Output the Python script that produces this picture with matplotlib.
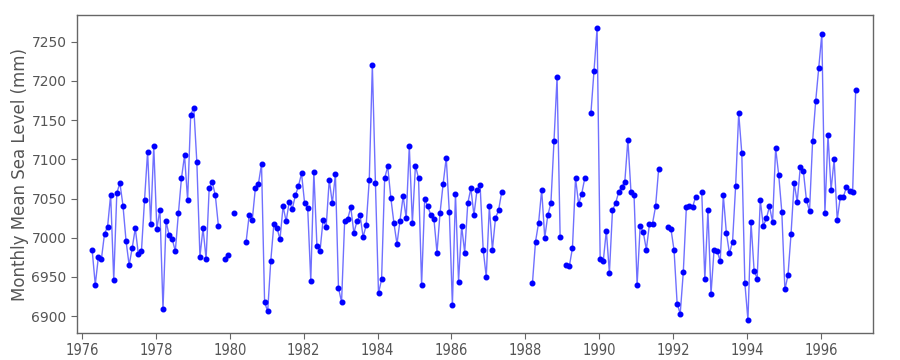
import numpy as np
import matplotlib
matplotlib.use("Agg")
import matplotlib.pyplot as plt

nan = np.nan

# monthly mean sea level (mm), Jan..Dec of each year, nan = missing month
msl_1976 = [nan, nan, nan, 6984, 6940, 6975, 6973, 7005, 7014, 7055, 6946, 7057]
msl_1977 = [7070, 7041, 6996, 6965, 6987, 7012, 6979, 6983, 7048, 7110, 7018, 7117]
msl_1978 = [7011, 7036, 6909, 7021, 7003, 6998, 6983, 7031, 7076, 7105, 7048, 7157]
msl_1979 = [7166, 7096, 6976, 7012, 6973, 7063, 7071, 7054, 7015, nan, 6973, 6978]
msl_1980 = [nan, 7031, nan, nan, nan, 6995, 7029, 7023, 7063, 7069, 7094, 6918]
msl_1981 = [6906, 6970, 7017, 7013, 6998, 7040, 7021, 7046, 7037, 7054, 7066, 7082]
msl_1982 = [7044, 7038, 6945, 7084, 6990, 6983, 7023, 7014, 7074, 7044, 7081, 6936]
msl_1983 = [6918, 7021, 7024, 7039, 7006, 7021, 7029, 7001, 7016, 7074, 7220, 7070]
msl_1984 = [6929, 6947, 7076, 7091, 7051, 7019, 6992, 7022, 7053, 7025, 7117, 7019]
msl_1985 = [7092, 7076, 6940, 7049, 7040, 7029, 7024, 6981, 7032, 7069, 7102, 7033]
msl_1986 = [6914, 7056, 6944, 7015, 6981, 7044, 7063, 7029, 7061, 7067, 6985, 6950]
msl_1987 = [7040, 6985, 7025, 7035, 7058, nan, nan, nan, nan, nan, nan, nan]
msl_1988 = [nan, nan, 6942, 6995, 7019, 7061, 7000, 7029, 7044, 7123, 7205, 7001]
msl_1989 = [nan, 6965, 6964, 6987, 7076, 7043, 7056, 7076, nan, 7159, 7213, 7267]
msl_1990 = [6973, 6970, 7009, 6955, 7035, 7044, 7058, 7065, 7071, 7125, 7059, 7055]
msl_1991 = [6940, 7015, 7007, 6985, 7017, 7018, 7040, 7088, nan, nan, 7014, 7011]
msl_1992 = [6984, 6916, 6903, 6956, 7039, 7041, 7039, 7052, nan, 7058, 6947, 7035]
msl_1993 = [6928, 6985, 6983, 6970, 7054, 7006, 6980, 6995, 7066, 7159, 7108, 6942]
msl_1994 = [6895, 7020, 6958, 6948, 7048, 7015, 7025, 7040, 7020, 7114, 7080, 7033]
msl_1995 = [6934, 6952, 7005, 7070, 7046, 7090, 7085, 7048, 7034, 7123, 7174, 7217]
msl_1996 = [7260, 7032, 7131, 7061, 7100, 7023, 7052, 7052, 7065, 7060, 7058, 7189]

first_year = 1976
x_ticks = list(range(1976, 1997, 2))
y_ticks = list(range(6900, 7251, 50))

sea_level = np.array(msl_1976 + msl_1977 + msl_1978 + msl_1979 + msl_1980 + msl_1981
                     + msl_1982 + msl_1983 + msl_1984 + msl_1985 + msl_1986 + msl_1987
                     + msl_1988 + msl_1989 + msl_1990 + msl_1991 + msl_1992 + msl_1993
                     + msl_1994 + msl_1995 + msl_1996, dtype=float)
dates = first_year + (np.arange(len(sea_level)) + 0.3) / 12.0

grey = '#555555'

fig = plt.figure(figsize=(9, 3.6), dpi=100)
ax = fig.add_axes([0.0856, 0.075, 0.8844, 0.883])

ax.plot(dates, sea_level, color='#3333ff', alpha=0.7, linewidth=1, zorder=2)
ax.plot(dates, sea_level, linestyle='none', marker='o', markersize=3.3,
        color='#0000ff', zorder=3)

ax.set_xlim(1975.865, 1997.41)
ax.set_ylim(6878.5, 7284)
ax.set_xticks(x_ticks)
ax.set_yticks(y_ticks)

ax.set_ylabel('Monthly Mean Sea Level (mm)', fontsize=12, color=grey, labelpad=2)

for s in ax.spines.values():
    s.set_color('#666666')
    s.set_linewidth(1)
ax.tick_params(axis='both', colors='#666666', labelcolor=grey, length=4)
ax.tick_params(axis='y', labelsize=10)
for lab in ax.get_xticklabels():
    lab.set_family('DejaVu Sans')
    lab.set_fontstretch('condensed')
    lab.set_fontsize(10.5)

fig.savefig('out.png', dpi=100)
